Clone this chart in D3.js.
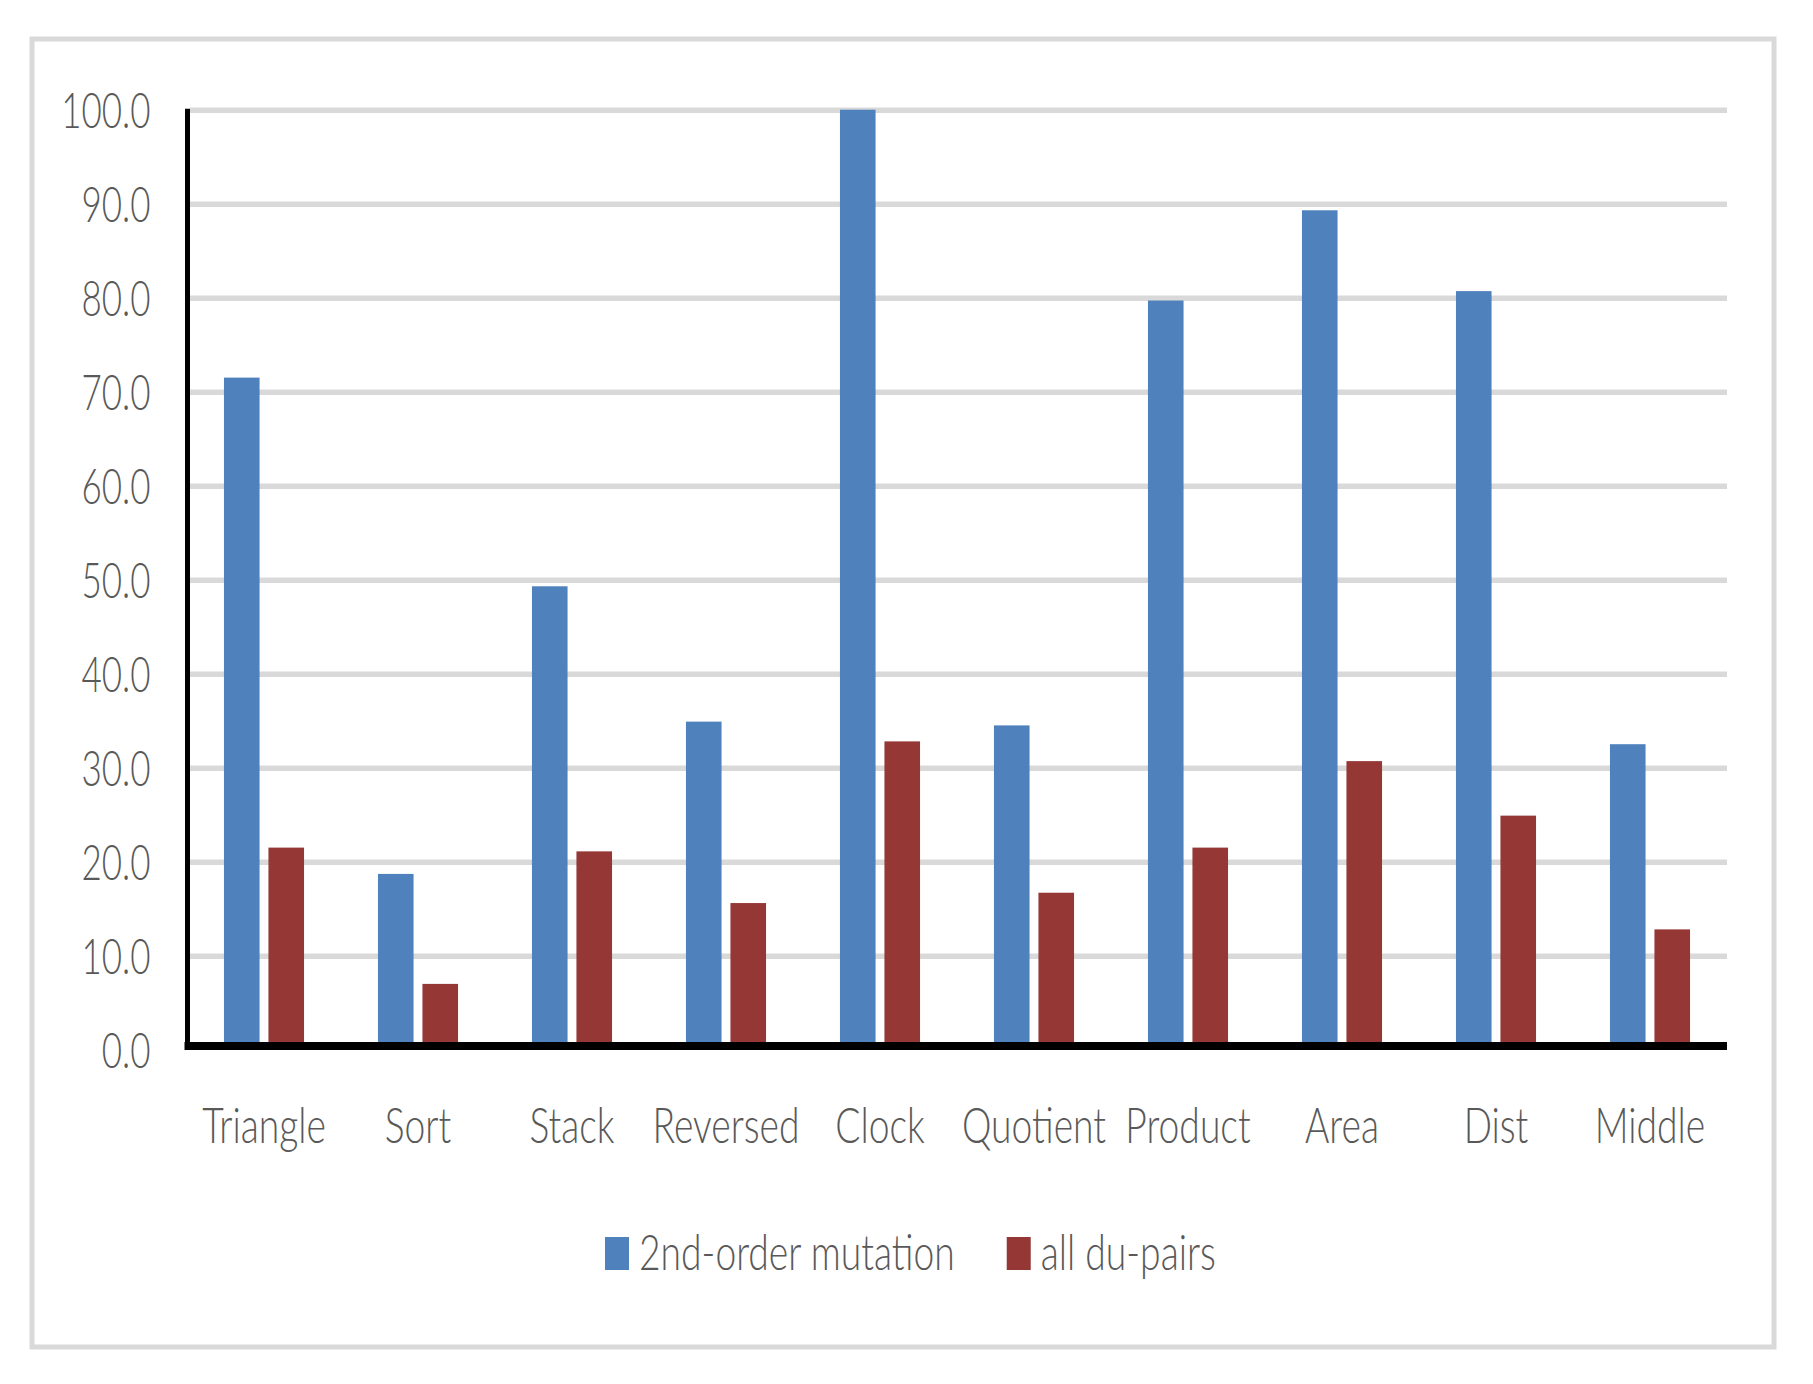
<!DOCTYPE html>
<html>
<head>
<meta charset="utf-8">
<script src="https://cdn.jsdelivr.net/npm/d3@7"></script>
<style>
  body { margin: 0; background: #fff; }
  text { font-family: Lato, "Open Sans", sans-serif; font-weight: 300; fill: #595959; }
</style>
</head>
<body>
<svg id="chart"></svg>
<script>
const categories = ["Triangle", "Sort", "Stack", "Reversed", "Clock", "Quotient", "Product", "Area", "Dist", "Middle"];
const secondOrder = [71.5, 18.7, 49.3, 34.9, 100.0, 34.5, 79.7, 89.3, 80.7, 32.5];
const allDuPairs = [21.5, 7.0, 21.1, 15.6, 32.8, 16.7, 21.5, 30.7, 24.9, 12.8];
const seriesNames = ["2nd-order mutation", "all du-pairs"];
const yTicks = [0, 10, 20, 30, 40, 50, 60, 70, 80, 90, 100];

const W = 1813, H = 1384;
const plotLeft = 187, plotRight = 1727, plotTop = 109.7, plotBottom = 1049.7;
const colors = ["#4f81bd", "#953735"];
// text is drawn horizontally squeezed, like the original
const sxNum = 0.7, sxText = 0.745;
const fontSize = 50;

const svg = d3.select("#chart").attr("width", W).attr("height", H);

svg.append("rect")
    .attr("x", 32).attr("y", 39)
    .attr("width", 1742).attr("height", 1308)
    .attr("fill", "#fff")
    .attr("stroke", "#d9d9d9")
    .attr("stroke-width", 5);

const x0 = d3.scaleBand()
    .domain(categories)
    .range([plotLeft, plotRight])
    .paddingInner(0.48)
    .paddingOuter(0.24);

const x1 = d3.scaleBand()
    .domain([0, 1])
    .range([0, x0.bandwidth()])
    .paddingInner(0.2);

const y = d3.scaleLinear()
    .domain([0, 100])
    .range([plotBottom, plotTop]);

// gridlines
svg.append("g")
    .attr("transform", "translate(" + plotRight + ",0)")
    .call(d3.axisLeft(y).tickValues(yTicks.slice(1)).tickSize(plotRight - plotLeft - 3).tickFormat(""))
    .call(g => g.select(".domain").remove())
    .call(g => g.selectAll("line").attr("stroke", "#d9d9d9").attr("stroke-width", 5.5));

// bars
const rows = categories.map((c, i) => ({ cat: c, values: [secondOrder[i], allDuPairs[i]] }));

svg.append("g")
    .selectAll("g")
    .data(rows)
    .enter().append("g")
    .attr("transform", d => "translate(" + x0(d.cat) + ",0)")
    .selectAll("rect")
    .data(d => d.values.map((v, k) => ({ k: k, v: v })))
    .enter().append("rect")
    .attr("x", d => x1(d.k))
    .attr("y", d => y(d.v))
    .attr("width", x1.bandwidth())
    .attr("height", d => y(0) - y(d.v))
    .attr("fill", d => colors[d.k]);

// y axis
const yAxis = svg.append("g")
    .attr("transform", "translate(" + (plotLeft + 0.5) + ",0)")
    .call(d3.axisLeft(y).tickValues(yTicks).tickSize(0).tickFormat(d3.format(".1f")));
yAxis.select(".domain")
    .attr("stroke", "#000").attr("stroke-width", 5)
    .attr("d", "M0," + (plotTop - 1) + "V" + (plotBottom + 0.3));
yAxis.selectAll("text")
    .attr("x", null).attr("dy", "0.35em")
    .attr("transform", "translate(-37,0) scale(" + sxNum + ",1)")
    .style("font-size", fontSize + "px")
    .attr("fill", "#595959");

// x axis
const xAxis = svg.append("g")
    .attr("transform", "translate(0," + y(0) + ")")
    .call(d3.axisBottom(x0).tickSize(0));
xAxis.select(".domain")
    .attr("stroke", "#000").attr("stroke-width", 8)
    .attr("d", "M" + (plotLeft - 2.5) + ",-3.7H" + plotRight);
xAxis.selectAll("text")
    .attr("y", null).attr("dy", null)
    .attr("transform", "translate(0,93.3) scale(" + sxText + ",1)")
    .style("font-size", fontSize + "px")
    .attr("fill", "#595959");

// legend
const legend = svg.append("g").attr("transform", "translate(605,1237)");
let lx = 0;
seriesNames.forEach((name, i) => {
    const item = legend.append("g").attr("transform", "translate(" + lx + ",0)");
    item.append("rect")
        .attr("width", 24).attr("height", 33)
        .attr("fill", colors[i]);
    const t = item.append("text")
        .attr("transform", "translate(34,33) scale(" + sxText + ",1)")
        .style("font-size", fontSize + "px")
        .text(name);
    lx += 34 + t.node().getComputedTextLength() * sxText + 52;
});
</script>
</body>
</html>
